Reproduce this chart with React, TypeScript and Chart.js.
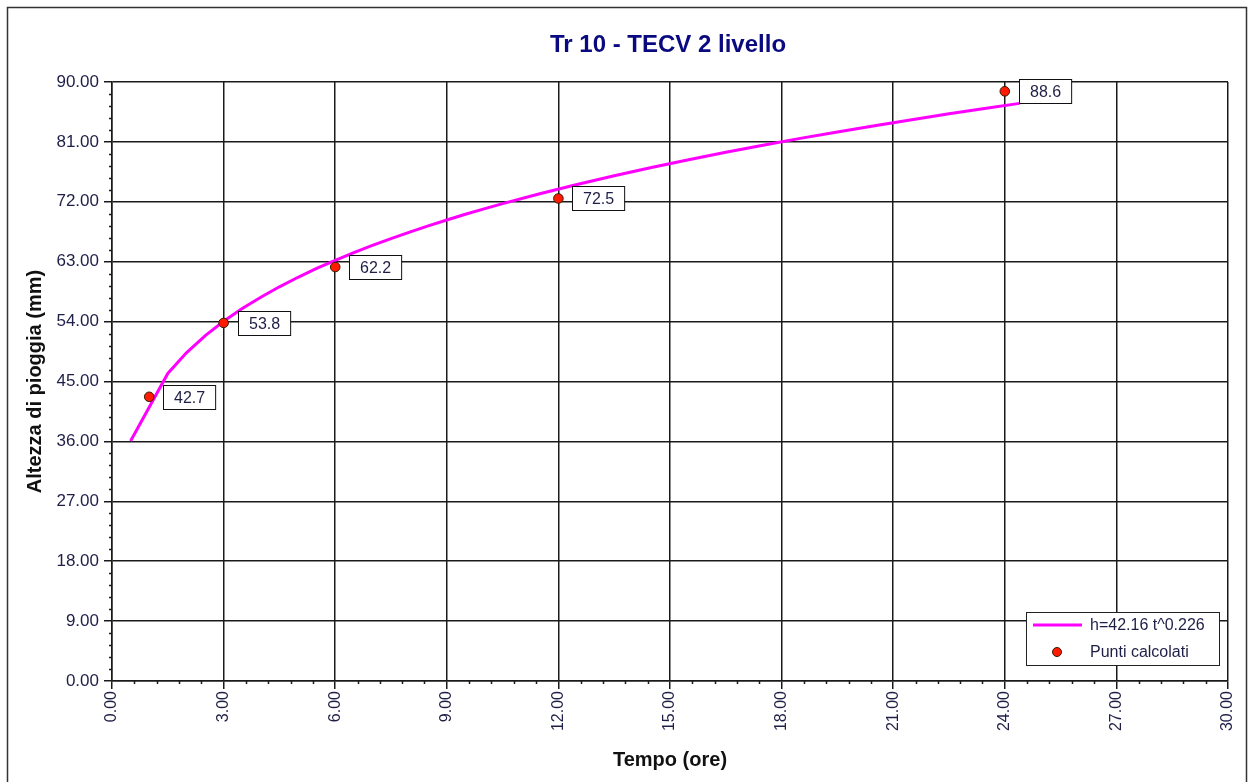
import React, { useEffect, useRef } from "react";
import { Chart, registerables } from "chart.js";

Chart.register(...registerables);

const chartTitle = "Tr 10 - TECV 2 livello";
const xTitle = "Tempo (ore)";
const yTitle = "Altezza di pioggia (mm)";
const lineLabel = "h=42.16 t^0.226";
const pointsLabel = "Punti calcolati";

const xMin = 0;
const xMax = 30;
const xStep = 3;
const yMin = 0;
const yMax = 90;
const yStep = 9;

// curve samples
const curveT = [0.5, 1.5, 2, 2.5, 3, 3.5, 4, 4.5, 5, 5.5, 6, 6.5, 7, 7.5, 8, 8.5, 9, 9.5, 10, 10.5, 11.5, 12.5, 13.5, 14.5, 15.5, 16.5, 17.5, 18.5, 19.5, 20.5, 21.5, 22.5, 23.5, 24.4];
const curveH = [36.05, 46.21, 49.31, 51.86, 54.04, 55.96, 57.67, 59.23, 60.66, 61.98, 63.21, 64.36, 65.44, 66.48, 67.45, 68.38, 69.27, 70.13, 70.94, 71.73, 73.22, 74.61, 75.92, 77.16, 78.33, 79.45, 80.51, 81.53, 82.5, 83.44, 84.34, 85.22, 86.06, 86.79];

// calculated points
const pointT = [1, 3, 6, 12, 24];
const pointH = [42.7, 53.8, 62.2, 72.5, 88.6];

const FONT = "'Liberation Sans', Arial, sans-serif";
const GRID = "#1a1a1a";
const TICK_TEXT = "#1e1e46";

export default function App() {
  const ref = useRef<HTMLCanvasElement | null>(null);

  useEffect(() => {
    if (!ref.current) return;

    const decor = {
      id: "decor",
      beforeDraw(chart: any) {
        const ctx = chart.ctx;
        ctx.save();
        ctx.fillStyle = "#ffffff";
        ctx.fillRect(0, 0, chart.width, chart.height);
        ctx.strokeStyle = "#333333";
        ctx.lineWidth = 1.5;
        ctx.beginPath();
        ctx.moveTo(7.5, chart.height + 5);
        ctx.lineTo(7.5, 7.5);
        ctx.lineTo(1246.5, 7.5);
        ctx.lineTo(1246.5, chart.height + 5);
        ctx.stroke();
        ctx.restore();
      },
      afterDraw(chart: any) {
        const ctx = chart.ctx;
        const area = chart.chartArea;
        const xs = chart.scales.x;
        const ys = chart.scales.y;
        ctx.save();
        // title
        ctx.fillStyle = "#0a0a80";
        ctx.font = `bold 24px ${FONT}`;
        ctx.textAlign = "center";
        ctx.textBaseline = "middle";
        ctx.fillText(chartTitle, (area.left + area.right) / 2 - 2, 45);

        // minor ticks
        ctx.strokeStyle = GRID;
        ctx.lineWidth = 1.5;
        ctx.beginPath();
        const yMinor = yStep / 5;
        for (let i = 0; i <= (yMax - yMin) / yMinor; i++) {
          if (i % 5 === 0) continue;
          const y = Math.round(ys.getPixelForValue(yMin + i * yMinor)) + 0.5;
          ctx.moveTo(area.left - 3, y);
          ctx.lineTo(area.left, y);
        }
        const xMinor = xStep / 5;
        for (let i = 0; i <= (xMax - xMin) / xMinor; i++) {
          if (i % 5 === 0) continue;
          const x = Math.round(xs.getPixelForValue(xMin + i * xMinor)) + 0.5;
          ctx.moveTo(x, area.bottom);
          ctx.lineTo(x, area.bottom + 3);
        }
        ctx.stroke();

        // legend
        const lx = 1026.5, ly = 612.5, lw = 193, lh = 53;
        ctx.fillStyle = "#ffffff";
        ctx.fillRect(lx, ly, lw, lh);
        ctx.strokeStyle = "#222";
        ctx.lineWidth = 1;
        ctx.strokeRect(lx, ly, lw, lh);
        const ds0 = chart.data.datasets[0];
        const ds1 = chart.data.datasets[1];
        ctx.strokeStyle = ds0.borderColor;
        ctx.lineWidth = 3;
        ctx.beginPath();
        ctx.moveTo(1033, 625);
        ctx.lineTo(1082, 625);
        ctx.stroke();
        ctx.fillStyle = ds1.backgroundColor;
        ctx.strokeStyle = ds1.borderColor;
        ctx.lineWidth = 1;
        ctx.beginPath();
        ctx.arc(1057, 652, 4.5, 0, Math.PI * 2);
        ctx.fill();
        ctx.stroke();
        ctx.fillStyle = TICK_TEXT;
        ctx.font = `16px ${FONT}`;
        ctx.textAlign = "left";
        ctx.textBaseline = "middle";
        ctx.fillText(ds0.label, 1090, 626);
        ctx.fillText(ds1.label, 1090, 653);
        ctx.restore();
      },
      afterDatasetsDraw(chart: any) {
        const ctx = chart.ctx;
        const meta = chart.getDatasetMeta(1);
        const data = chart.data.datasets[1].data;
        ctx.save();
        ctx.font = `16px ${FONT}`;
        ctx.textBaseline = "middle";
        ctx.textAlign = "center";
        meta.data.forEach((el: any, i: number) => {
          const txt = Number(data[i].y).toFixed(1);
          const w = ctx.measureText(txt).width + 21;
          const h = 24;
          const bx = Math.round(el.x + 14) + 0.5;
          const by = Math.round(el.y - h / 2) + 0.5;
          ctx.fillStyle = "#ffffff";
          ctx.fillRect(bx, by, w, h);
          ctx.strokeStyle = "#111";
          ctx.lineWidth = 1;
          ctx.strokeRect(bx, by, w, h);
          ctx.fillStyle = TICK_TEXT;
          ctx.fillText(txt, bx + w / 2, by + h / 2 + 1);
        });
        ctx.restore();
      },
    };

    const chart = new Chart(ref.current, {
      type: "scatter",
      data: {
        datasets: [
          {
            label: lineLabel,
            data: curveT.map((t, i) => ({ x: t, y: curveH[i] })),
            showLine: true,
            borderColor: "#ff00ff",
            backgroundColor: "#ff00ff",
            borderWidth: 3,
            pointRadius: 0,
            tension: 0,
            order: 2,
          },
          {
            label: pointsLabel,
            data: pointT.map((t, i) => ({ x: t, y: pointH[i] })),
            showLine: false,
            backgroundColor: "#ff1a00",
            borderColor: "#3a1a00",
            borderWidth: 1,
            pointRadius: 4.8,
            order: 1,
          },
        ],
      },
      options: {
        responsive: false,
        animation: false,
        layout: { padding: { top: 82, right: 22, left: 0, bottom: 0 } },
        plugins: {
          legend: { display: false },
          title: { display: false },
          tooltip: { enabled: false },
        },
        scales: {
          x: {
            type: "linear",
            min: xMin,
            max: xMax,
            afterFit(scale: any) {
              scale.height = 101;
            },
            ticks: {
              stepSize: xStep,
              minRotation: 90,
              maxRotation: 90,
              padding: 2,
              color: TICK_TEXT,
              font: { family: FONT, size: 16 },
              callback: (v: any) => Number(v).toFixed(2),
            },
            grid: { color: GRID, lineWidth: 1.5, tickLength: 8, drawTicks: true },
            border: { display: true, color: GRID, width: 1.5 },
            title: {
              display: true,
              text: xTitle,
              color: "#111",
              font: { family: FONT, size: 20, weight: "bold" },
              padding: { top: 0, bottom: 10 },
            },
          },
          y: {
            type: "linear",
            min: yMin,
            max: yMax,
            afterFit(scale: any) {
              scale.width = 112;
            },
            ticks: {
              stepSize: yStep,
              padding: 5,
              color: TICK_TEXT,
              font: { family: FONT, size: 17 },
              callback: (v: any) => Number(v).toFixed(2),
            },
            grid: { color: GRID, lineWidth: 1.5, tickLength: 8, drawTicks: true },
            border: { display: true, color: GRID, width: 1.5 },
            title: {
              display: true,
              text: yTitle,
              color: "#111",
              font: { family: FONT, size: 20, weight: "bold" },
              padding: { top: 23, bottom: 0 },
            },
          },
        },
      },
      plugins: [decor],
    } as any);

    return () => chart.destroy();
  }, []);

  return (
    <canvas
      ref={ref}
      width={1250}
      height={782}
      style={{ position: "absolute", left: 0, top: 0, display: "block" }}
    />
  );
}
